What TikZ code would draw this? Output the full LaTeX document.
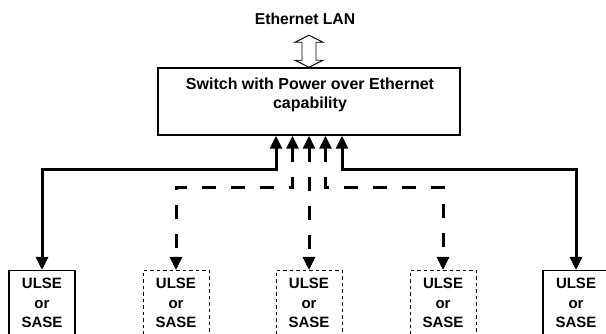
\documentclass[tikz,border=0pt]{standalone}
\usepackage{fontspec}
\setmainfont{Liberation Sans}
\usetikzlibrary{arrows.meta}
\begin{document}
\begin{tikzpicture}[x=1pt,y=-1pt,
  lbl/.style={font=\bfseries\fontsize{16}{19.5}\selectfont, inner sep=0pt, align=center},
  dev/.style={draw, line width=1.1pt, minimum width=66pt, minimum height=80pt, anchor=north, inner sep=0pt},
  devd/.style={dev, line width=0.8pt, dash pattern=on 3.5pt off 3pt},
  devtxt/.style={font=\bfseries\fontsize{15}{19.5}\selectfont, inner sep=0pt, align=center, anchor=north},
  link/.style={line width=3pt, {Triangle[length=13pt,width=12pt]}-{Triangle[length=13pt,width=12pt]}},
  dlink/.style={link, dash pattern=on 14pt off 15pt},
]
\useasboundingbox (0,0) rectangle (606,334);
\clip (0,0) rectangle (606,334);

\node[lbl, anchor=base, font=\bfseries\fontsize{15.7}{19}\selectfont] (lan) at (305,25) {Ethernet LAN};
\node[draw, line width=1.5pt, minimum width=302pt, minimum height=67pt, inner sep=0pt] (sw) at (309,101.5) {};
\node[lbl, anchor=north] (swt) at (310,77.6) {Switch with Power over Ethernet\\capability};

% open double arrow between LAN and switch
\draw[line width=0.9pt, fill=white, line join=miter]
  (sw.north) -- ++(14,-7) -- ++(-7,0) -- ++(0,-18) -- ++(7,0) -- ++(-14,-7)
  -- ++(-14,7) -- ++(7,0) -- ++(0,18) -- ++(-7,0) -- cycle;

\node[dev]  (d1) at (42,270) {};
\node[devd] (d2) at (176,270) {};
\node[devd] (d3) at (309,270) {};
\node[devd] (d4) at (443,270) {};
\node[dev]  (d5) at (576,270) {};

\node[devtxt] (t1) at (42,278.2)  {ULSE\\or\\SASE};
\node[devtxt] (t2) at (176,278.2) {ULSE\\or\\SASE};
\node[devtxt] (t3) at (309,278.2) {ULSE\\or\\SASE};
\node[devtxt] (t4) at (443,278.2) {ULSE\\or\\SASE};
\node[devtxt] (t5) at (576,278.2) {ULSE\\or\\SASE};

\draw[link]  ([xshift=-33pt]sw.south) -- ++(0,34) -| (d1.north);
\draw[dlink] ([xshift=-16.5pt]sw.south) -- ++(0,52) -| (d2.north);
\draw[dlink] (sw.south) -- (d3.north);
\draw[dlink] ([xshift=16.5pt]sw.south) -- ++(0,52) -| (d4.north);
\draw[link]  ([xshift=33pt]sw.south) -- ++(0,34) -| (d5.north);
\end{tikzpicture}
\end{document}
